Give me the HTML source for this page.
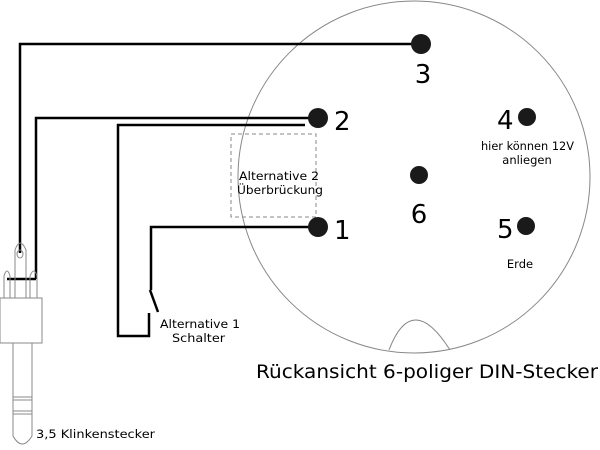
<!DOCTYPE html>
<html><head><meta charset="utf-8"><style>
html,body{margin:0;padding:0;background:#fff;}
svg{display:block;}
text{font-family:"DejaVu Sans","Liberation Sans",sans-serif;fill:#000;}
</style></head><body>
<svg width="600" height="450" viewBox="0 0 600 450" xmlns="http://www.w3.org/2000/svg">
<circle cx="414" cy="177" r="176" fill="none" stroke="#888" stroke-width="1"/>
<path d="M389 350 Q412 290 450 350" fill="none" stroke="#888" stroke-width="1"/>
<rect x="231" y="134" width="85" height="83" fill="none" stroke="#888" stroke-dasharray="4,3" stroke-width="1"/>
<g fill="none" stroke="#000" stroke-width="2.5">
<polyline points="421,44 20,44 20,253"/>
<polyline points="318,118 36,118 36,279"/>
<polyline points="305,125 118,125 118,336 149,336 149,313"/>
<polyline points="318,227 151,227 151,290"/>
<line x1="150" y1="290" x2="158" y2="312"/>
<line x1="7" y1="279" x2="36" y2="279"/>
</g>
<g fill="none" stroke="#888" stroke-width="1">
<path d="M15 298 V250 Q20 236 26 250 V298"/>
<ellipse cx="20" cy="254" rx="3" ry="4"/>
<path d="M4 298 V276 Q7 266 10 276 V298"/>
<path d="M30 298 V276 Q34 266 37 276 V298"/>
<rect x="0" y="298" width="42" height="45" fill="#fff"/>
<path d="M13 343 V436 Q22 452 32 436 V343"/>
<line x1="13" y1="397" x2="32" y2="397"/>
<line x1="13" y1="400" x2="32" y2="400"/>
<line x1="13" y1="411" x2="32" y2="411"/>
<line x1="13" y1="414" x2="32" y2="414"/>
</g>
<g fill="#1a1a1a">
<circle cx="421" cy="44" r="10"/>
<circle cx="318" cy="118" r="10"/>
<circle cx="527" cy="117" r="9"/>
<circle cx="419" cy="175" r="9"/>
<circle cx="318" cy="227" r="10"/>
<circle cx="526" cy="226" r="9"/>
</g>
<g font-size="26">
<text x="423" y="83" text-anchor="middle">3</text>
<text x="334" y="130">2</text>
<text x="497" y="129">4</text>
<text x="419" y="223" text-anchor="middle">6</text>
<text x="334" y="239">1</text>
<text x="497" y="238">5</text>
</g>
<g font-size="11.5">
<text x="481" y="150" textLength="93" lengthAdjust="spacingAndGlyphs">hier können 12V</text>
<text x="527" y="164" text-anchor="middle">anliegen</text>
<text x="520" y="268" text-anchor="middle">Erde</text>
<text x="239" y="180" textLength="80" lengthAdjust="spacingAndGlyphs">Alternative 2</text>
<text x="237" y="194" textLength="86" lengthAdjust="spacingAndGlyphs">Überbrückung</text>
<text x="160" y="328" textLength="80" lengthAdjust="spacingAndGlyphs">Alternative 1</text>
<text x="172" y="342" textLength="53" lengthAdjust="spacingAndGlyphs">Schalter</text>
<text x="36" y="438" textLength="119" lengthAdjust="spacingAndGlyphs">3,5 Klinkenstecker</text>
</g>
<text x="256" y="378" font-size="19" textLength="342" lengthAdjust="spacingAndGlyphs">Rückansicht 6-poliger DIN-Stecker</text>
</svg>
</body></html>
